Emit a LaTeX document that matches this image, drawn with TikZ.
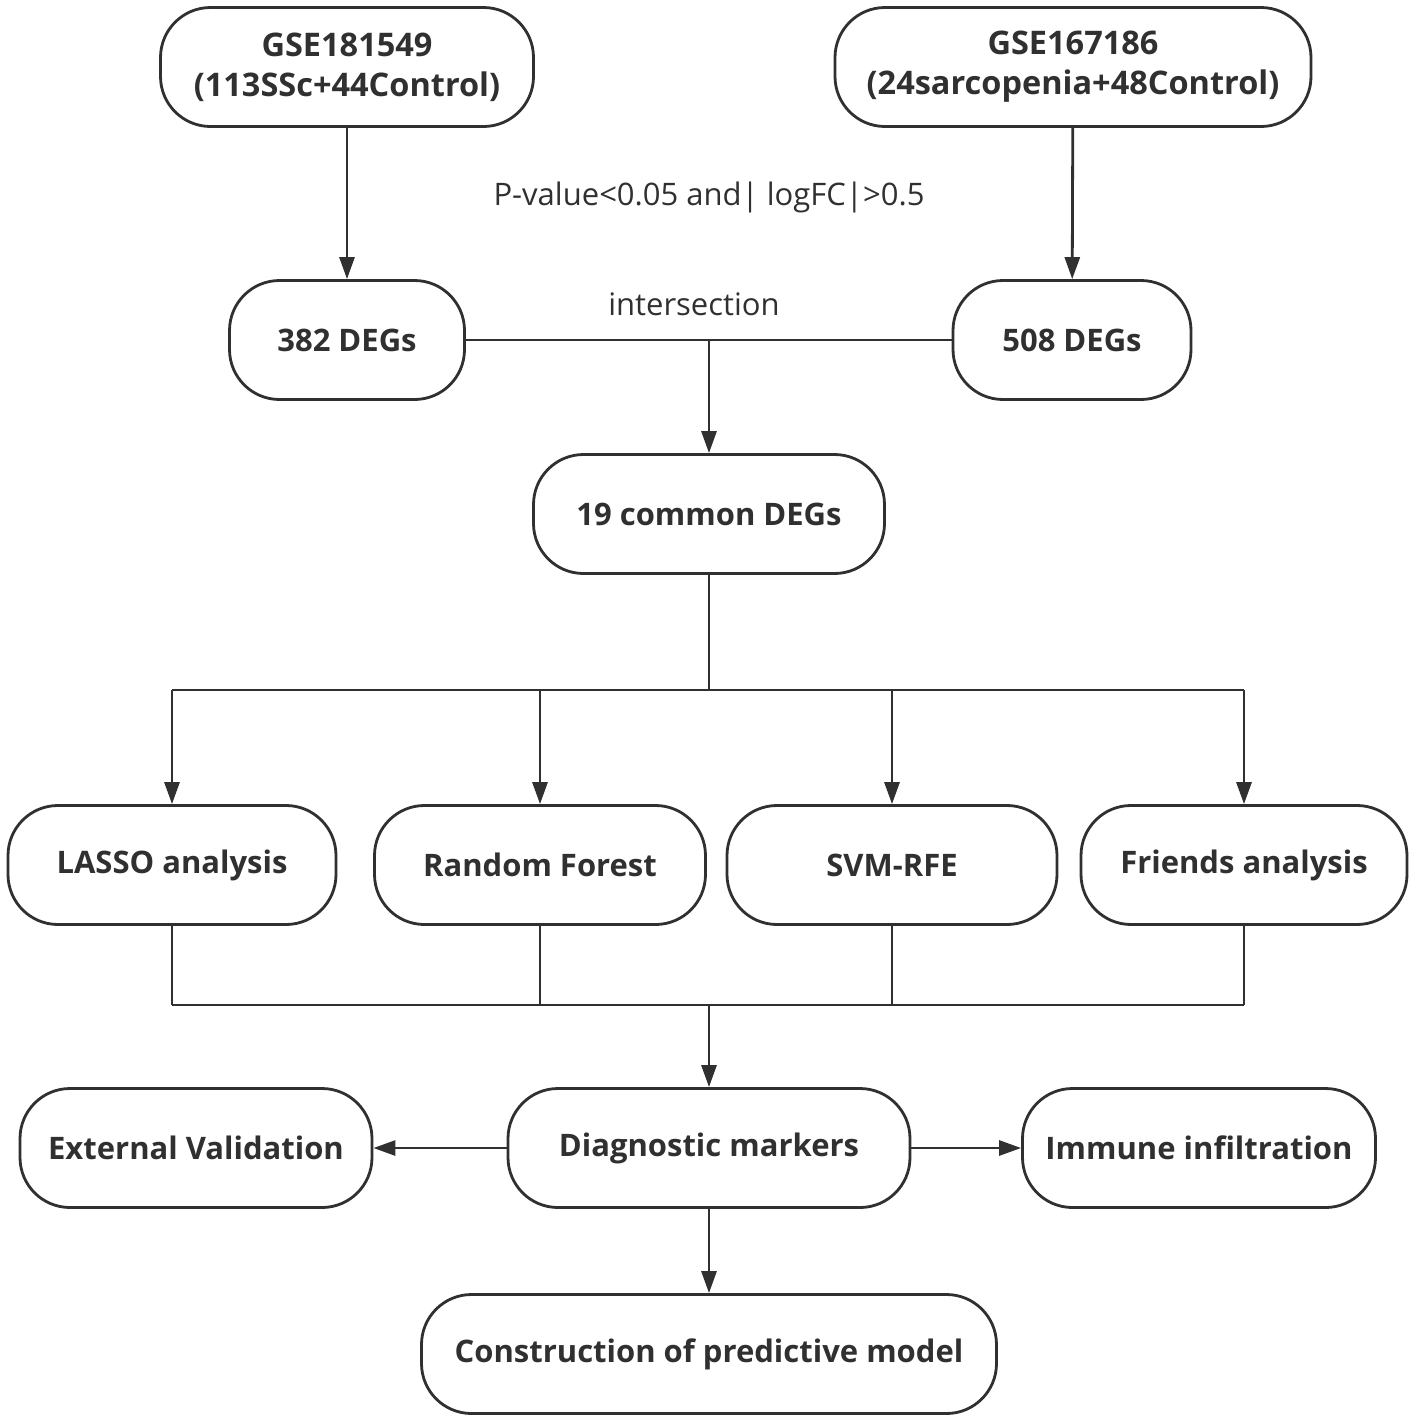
\documentclass[tikz,border=0pt]{standalone}
\usepackage{fontspec}
\setmainfont{Open Sans}
\usetikzlibrary{arrows.meta}
\definecolor{ink}{HTML}{303030}
\tikzset{
  box/.style={draw=ink, line width=2.8pt, rounded corners=50pt, minimum height=119pt,
    text=ink, align=center, font=\bfseries\fontsize{31}{40}\selectfont, inner sep=0pt},
  bigtext/.style={font=\bfseries\fontsize{32.5}{40}\selectfont},
  conn/.style={draw=ink, line width=2.8pt},
  arr/.style={conn, -{Triangle[length=22pt,width=15pt]}},
  lbl/.style={text=ink, font=\fontsize{31}{36}\selectfont, inner sep=0pt}
}
\begin{document}
\begin{tikzpicture}[x=1pt,y=-1pt]
\useasboundingbox (0,0) rectangle (1417,1422);
\node[box, bigtext, minimum width=373pt] (g1) at (347,67) {GSE181549\\(113SSc+44Control)};
\node[box, bigtext, minimum width=476pt] (g2) at (1073,67) {GSE167186\\(24sarcopenia+48Control)};
\node[box, minimum width=235pt] (d1) at (347,340) {382 DEGs};
\node[box, minimum width=238pt] (d2) at (1072,340) {508 DEGs};
\node[box, minimum width=351pt] (c) at (709,514) {19 common DEGs};
\node[box, minimum width=328pt] (m1) at (172,865) {LASSO analysis};
\node[box, minimum width=331pt] (m2) at (540,865) {Random Forest};
\node[box, minimum width=330pt] (m3) at (892,865) {SVM-RFE};
\node[box, minimum width=326pt] (m4) at (1244,865) {Friends analysis};
\node[box, minimum width=402pt] (dm) at (709,1148) {Diagnostic markers};
\node[box, minimum width=352pt] (ev) at (196,1148) {External Validation};
\node[box, minimum width=353pt] (ii) at (1199,1148) {Immune infiltration};
\node[box, minimum width=575pt] (cp) at (709,1354) {Construction of predictive model};
\node[lbl] (t1) at (709,197) {P-value<0.05 and| logFC|>0.5};
\node[lbl] (t2) at (694,304) {intersection};
\coordinate (j1) at (709,340);
\coordinate (j2) at (709,690);
\coordinate (j3) at (709,1005);
\draw[arr] (g1) -- (d1);
\draw[arr] (g2) -- (d2);
\draw[conn] (d1) -- (d2);
\draw[arr] (j1) -- (c);
\draw[conn] (c) -- (j2);
\draw[conn] (m1.north |- j2) -- (m4.north |- j2);
\foreach \m in {m1,m2,m3,m4}{
  \draw[arr] (\m.north |- j2) -- (\m);
  \draw[conn] (\m) -- (\m.south |- j3);
}
\draw[conn] (m1.south |- j3) -- (m4.south |- j3);
\draw[arr] (j3) -- (dm);
\draw[arr] (dm) -- (ev);
\draw[arr] (dm) -- (ii);
\draw[arr] (dm) -- (cp);
\end{tikzpicture}
\end{document}
